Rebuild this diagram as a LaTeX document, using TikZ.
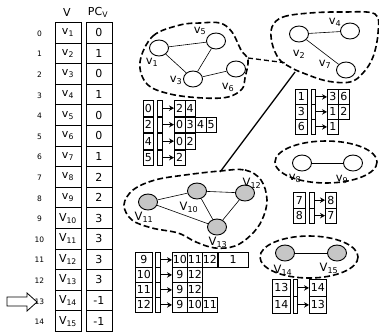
\documentclass[tikz,border=0pt]{standalone}
\usepackage{fontspec}
\setmainfont{DejaVu Sans}
\usetikzlibrary{arrows.meta,shapes.geometric}
\begin{document}
\begin{tikzpicture}[x=1pt,y=-1pt,
  tcell/.style={draw, line width=0.9pt, inner sep=0, anchor=north west, minimum width=26, minimum height=20.6, font=\fontsize{11}{11}\selectfont},
  idxlab/.style={font=\fontsize{7.5}{7.5}\selectfont, inner sep=0},
  hdr/.style={font=\fontsize{11}{11}\selectfont, inner sep=0},
  abox/.style={draw, line width=0.8pt, inner sep=0, anchor=north west, font=\fontsize{11}{11}\selectfont},
  ptr/.style={-{Stealth[length=5pt,width=5.5pt]}, line width=1pt},
  gnode/.style={ellipse, draw, line width=0.9pt, minimum width=19, minimum height=16, inner sep=0, fill=white},
  gfill/.style={gnode, fill=gray!45},
  gedge/.style={line width=0.6pt},
  glab/.style={font=\fontsize{11.5}{11.5}\selectfont, inner sep=0},
  blob/.style={dash pattern=on 6pt off 3pt, line width=1.6pt}
]
\useasboundingbox (0,0) rectangle (379,332);

% headers
\node[hdr] (hV) at (67,12) {V};
\node[hdr] (hPC) at (98,12) {PC\textsubscript{V}};

% table
\foreach \i/\L/\n/\pc in {0/v/1/0,1/v/2/1,2/v/3/0,3/v/4/1,4/v/5/0,5/v/6/0,6/v/7/1,7/v/8/2,8/v/9/2,9/V/10/3,10/V/11/3,11/V/12/3,12/V/13/3,13/V/14/-1,14/V/15/-1}{
  \pgfmathsetmacro\yy{22+\i*20.6}
  \node[tcell] (V\i) at (54.5,\yy) {\L\textsubscript{\n}};
  \node[tcell] (P\i) at (85.5,\yy) {\pc};
  \node[idxlab] (I\i) at (39.5,\yy+11.5) {\i};
}

% pointer arrow
\draw[line width=0.8pt] (7,297) -- (27,297) -- (27,293) -- (37,302) -- (27,311) -- (27,306) -- (7,306) -- cycle;

% cluster 1
\draw[blob] plot[smooth cycle, tension=0.6] coordinates {(140,62) (153,36) (180,25) (200,23) (220,23) (232,32) (241,50) (248,60) (245,78) (242,89) (228,97) (203,98) (170,94) (147,84)};
\node[gnode] (n1) at (159,48) {};
\node[gnode] (n5) at (216,41) {};
\node[gnode] (n3) at (193,79) {};
\node[gnode] (n6) at (236,69) {};
\draw[gedge] (n1) -- (n5);
\draw[gedge] (n1) -- (n3);
\draw[gedge] (n3) -- (n5);
\draw[gedge] (n3) -- (n6);
\node[glab] (l5) at (200,31) {v\textsubscript{5}};
\node[glab] (l1) at (152,62) {v\textsubscript{1}};
\node[glab] (l3) at (176,80) {v\textsubscript{3}};
\node[glab] (l6) at (228,87) {v\textsubscript{6}};

% cluster 2
\draw[blob] plot[smooth cycle, tension=0.6] coordinates {(272,27) (283,17) (310,13) (343,12) (375,14) (378,33) (373,57) (363,73) (350,82) (327,81) (303,73) (290,67) (279,59) (272,43)};
\node[gnode] (n2) at (299,34) {};
\node[gnode] (n4) at (350,31) {};
\node[gnode] (n7) at (346,70) {};
\draw[gedge] (n2) -- (n4);
\draw[gedge] (n2) -- (n7);
\node[glab] (l4) at (335,22) {v\textsubscript{4}};
\node[glab] (l2) at (299,54) {v\textsubscript{2}};
\node[glab] (l7) at (325,64) {v\textsubscript{7}};

% connectors between clusters
\coordinate (c1) at (248,58);
\coordinate (c2) at (287,63);
\draw[dash pattern=on 5pt off 3pt, line width=1.3pt] (c1) -- (c2);
\coordinate (c3) at (295,72);
\coordinate (c4) at (220,172);
\draw[line width=1.3pt] (c3) -- (c4);

% cluster 3
\draw[blob] plot[smooth cycle, tension=0.6] coordinates {(220,171) (245,170) (261,180) (267,200) (262,220) (251,235) (235,246) (215,248) (196,242) (178,233) (152,228) (132,220) (124,205) (133,190) (155,180) (185,175)};
\node[gfill] (n11) at (148,202) {};
\node[gfill] (n10) at (197,191) {};
\node[gfill] (n12) at (245,193) {};
\node[gfill] (n13) at (217,227) {};
\draw[gedge] (n11) -- (n10);
\draw[gedge] (n10) -- (n12);
\draw[gedge] (n10) -- (n13);
\draw[gedge] (n11) -- (n13);
\draw[gedge] (n12) -- (n13);
\node[glab] (l12) at (252,183) {V\textsubscript{12}};
\node[glab] (l10) at (189,207) {V\textsubscript{10}};
\node[glab] (l11) at (144,217) {V\textsubscript{11}};
\node[glab] (l13) at (218,242) {V\textsubscript{13}};

% cluster 4
\draw[blob] (326,162) ellipse [x radius=51, y radius=21];
\node[gnode] (n8) at (302,163) {};
\node[gnode] (n9) at (353,163) {};
\draw[gedge] (n8) -- (n9);
\node[glab] (l8) at (295,178) {v\textsubscript{8}};
\node[glab] (l9) at (342,179) {v\textsubscript{9}};

% cluster 5
\draw[blob] (309,257) ellipse [x radius=49, y radius=21];
\node[gfill] (n14) at (285,253) {};
\node[gfill] (n15) at (337,253) {};
\draw[gedge] (n14) -- (n15);
\node[glab] (l14) at (283,270) {V\textsubscript{14}};
\node[glab] (l15) at (329,268) {V\textsubscript{15}};

% adjacency lists cluster 1
\foreach \id/\y/\lst in {0/100/{2,4},2/116.5/{0,3,4,5},4/133/{0,2},5/149.5/{2}}{
  \node[abox, minimum width=10, minimum height=15.5] (a\id) at (143,\y) {\id};
  \node[abox, minimum width=5, minimum height=15.5] (an\id) at (157,\y) {};
  \foreach \c [count=\k] in \lst {
    \node[abox, minimum width=10.5, minimum height=15.5] (al\id-\k) at ({174+(\k-1)*10.5},\y) {\c};
  }
  \draw[ptr] (an\id.east) -- (al\id-1.west);
}

% adjacency lists cluster 2
\foreach \id/\y/\lst in {1/89/{3,6},3/104/{1,2},6/119/{1}}{
  \node[abox, minimum width=12, minimum height=15] (b\id) at (295,\y) {\id};
  \node[abox, minimum width=4, minimum height=15] (bn\id) at (311,\y) {};
  \foreach \c [count=\k] in \lst {
    \node[abox, minimum width=11, minimum height=15] (bl\id-\k) at ({327+(\k-1)*11},\y) {\c};
  }
  \draw[ptr] (bn\id.east) -- (bl\id-1.west);
}

% adjacency lists cluster 3
\foreach \id/\y/\lst in {9/252/{10,11,12},10/267/{9,12},11/282/{9,12},12/297/{9,10,11}}{
  \node[abox, minimum width=17, minimum height=15] (c\id) at (135,\y) {\id};
  \node[abox, minimum width=5, minimum height=15] (cn\id) at (155,\y) {};
  \foreach \c [count=\k] in \lst {
    \node[abox, minimum width=15, minimum height=15] (cl\id-\k) at ({172+(\k-1)*15},\y) {\c};
  }
  \draw[ptr] (cn\id.east) -- (cl\id-1.west);
}
\node[abox, minimum width=30, minimum height=15] (cl9-4) at (cl9-3.north east) {1};

% adjacency lists cluster 4
\foreach \id/\y/\lst in {7/192/{8},8/207.5/{7}}{
  \node[abox, minimum width=12, minimum height=15.5] (d\id) at (293,\y) {\id};
  \node[abox, minimum width=5, minimum height=15.5] (dn\id) at (309,\y) {};
  \foreach \c [count=\k] in \lst {
    \node[abox, minimum width=11, minimum height=15.5] (dl\id-\k) at ({325+(\k-1)*11},\y) {\c};
  }
  \draw[ptr] (dn\id.east) -- (dl\id-1.west);
}

% adjacency lists cluster 5
\foreach \id/\y/\lst in {13/279/{14},14/296/{13}}{
  \node[abox, minimum width=18, minimum height=17] (e\id) at (272,\y) {\id};
  \node[abox, minimum width=4, minimum height=17] (en\id) at (293,\y) {};
  \foreach \c [count=\k] in \lst {
    \node[abox, minimum width=17, minimum height=17] (el\id-\k) at ({309+(\k-1)*17},\y) {\c};
  }
  \draw[ptr] (en\id.east) -- (el\id-1.west);
}
\end{tikzpicture}
\end{document}
